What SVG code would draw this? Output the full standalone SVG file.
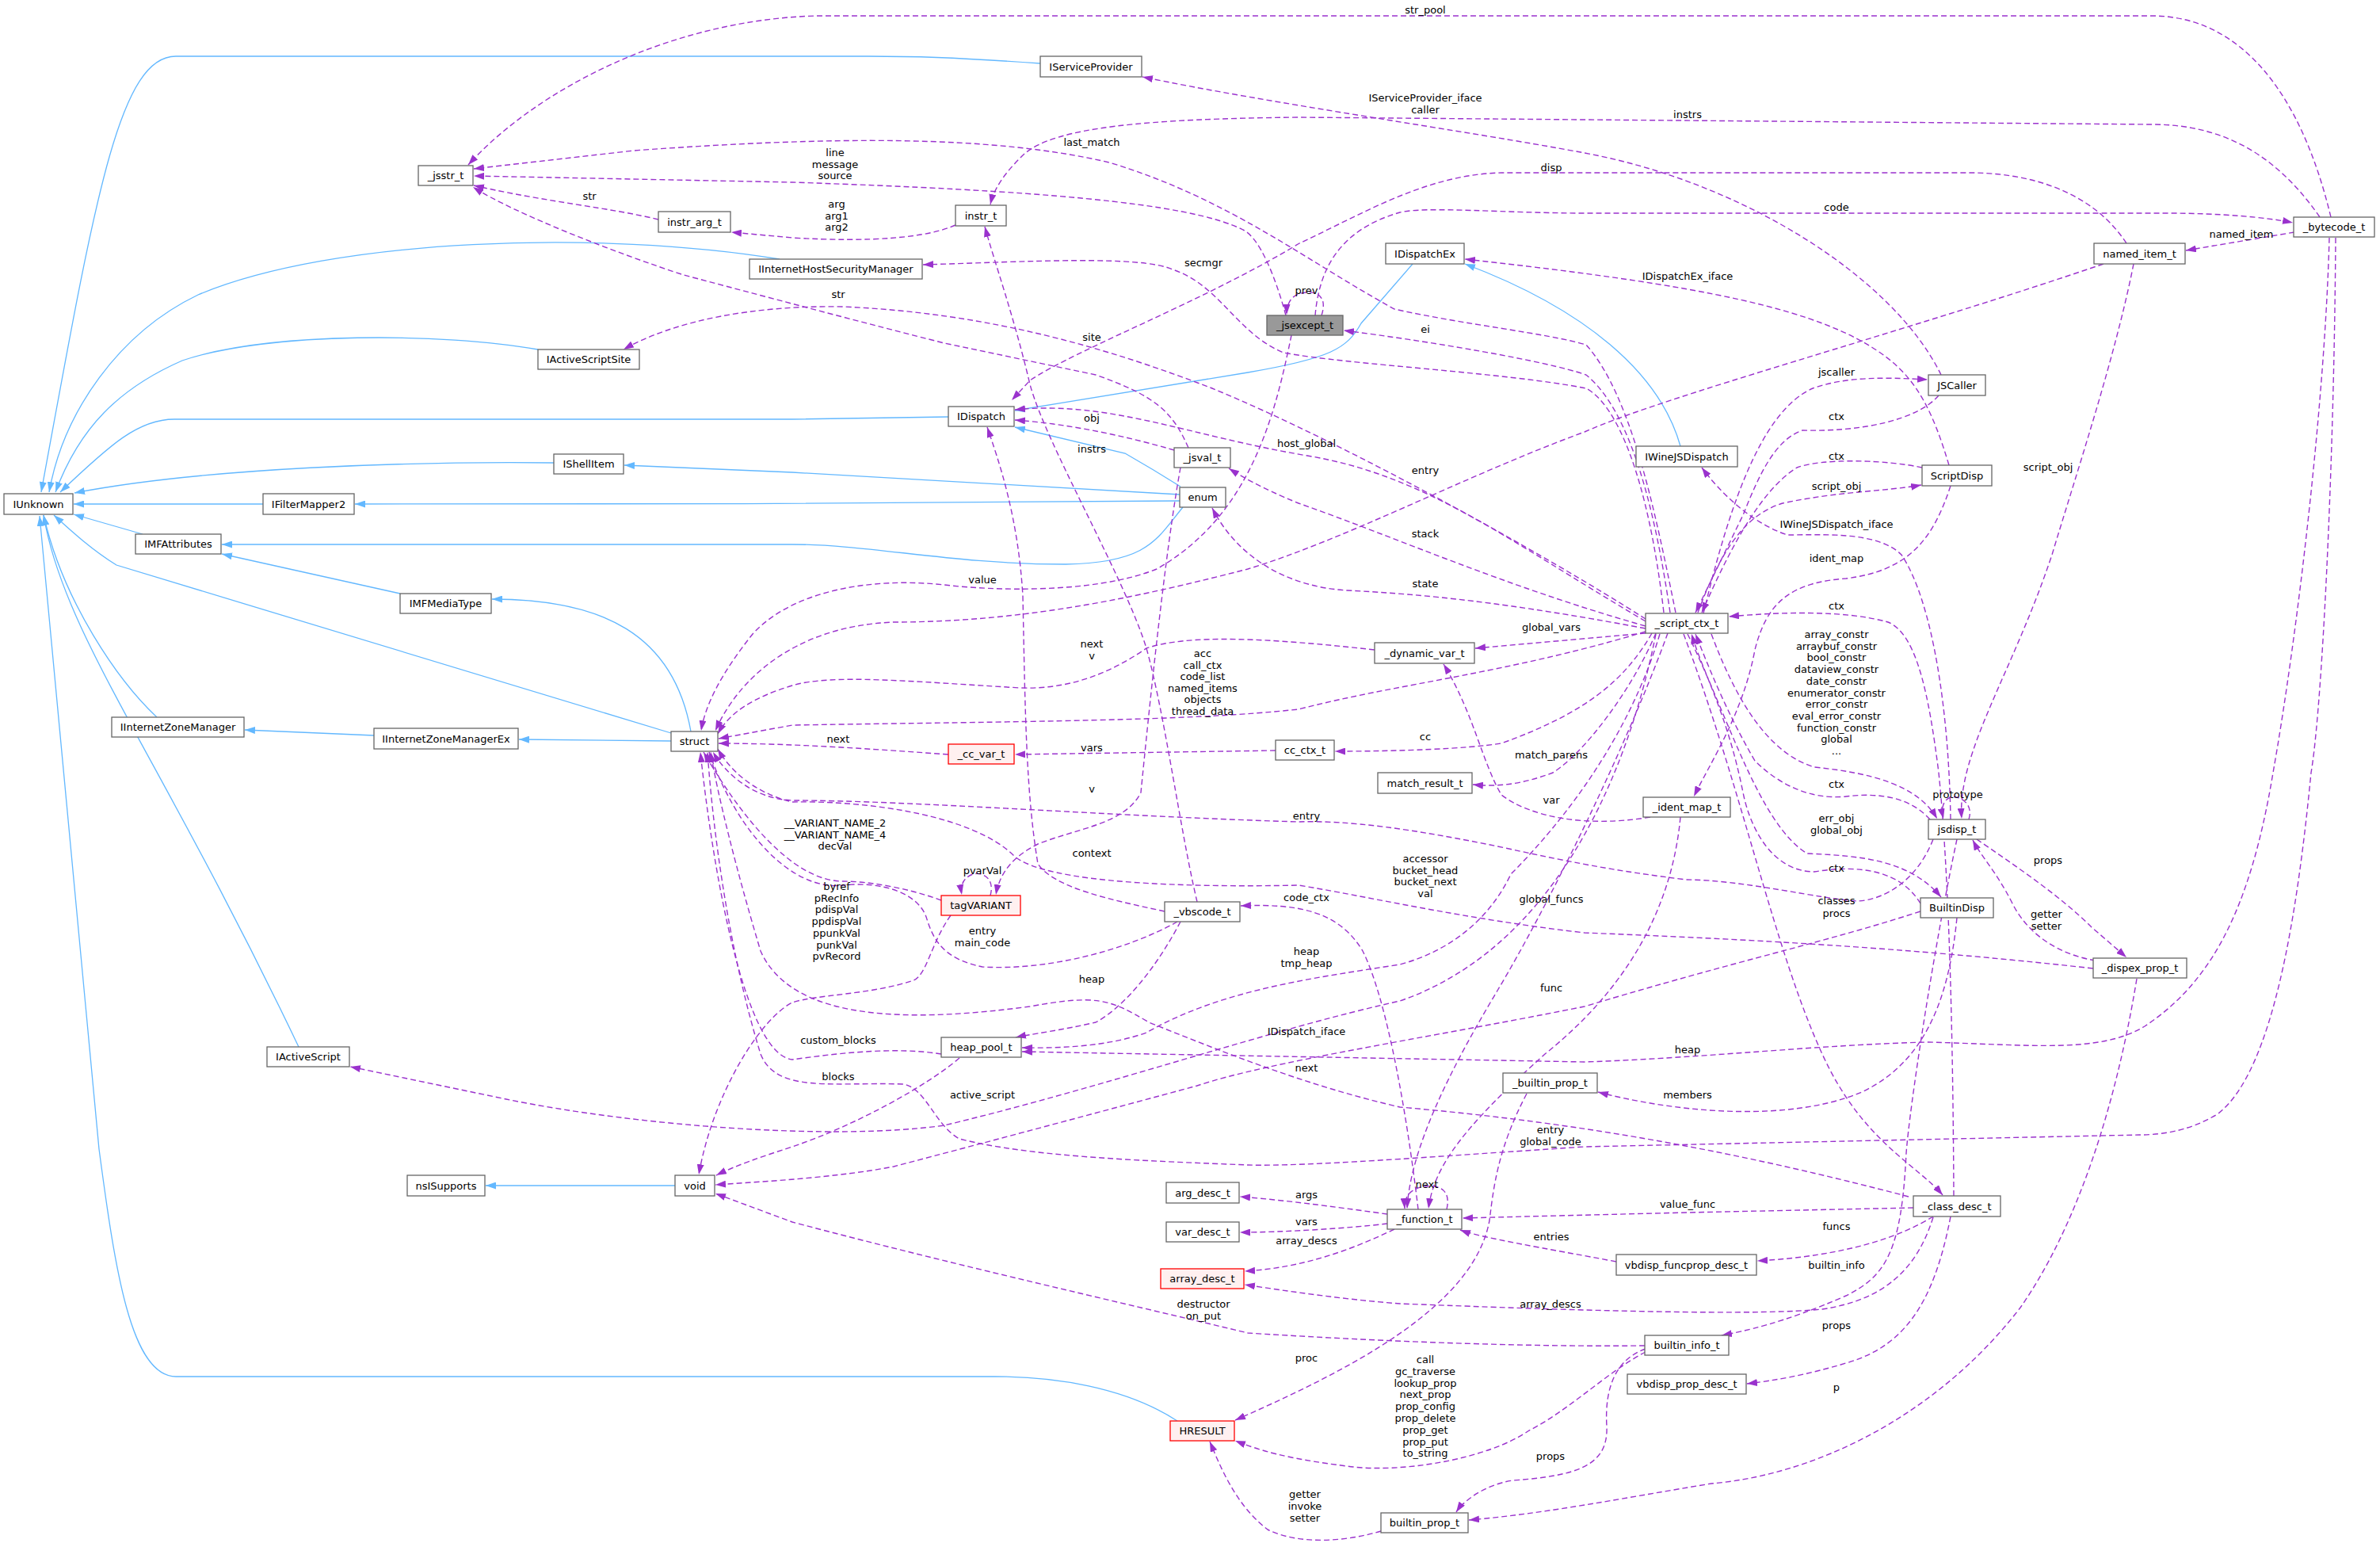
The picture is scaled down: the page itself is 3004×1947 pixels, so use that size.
<svg xmlns="http://www.w3.org/2000/svg" width="3004" height="1947" viewBox="0 0 3004 1947">
<style>
.e{fill:none;stroke:#9a32cd;stroke-width:1.4;stroke-dasharray:7,4;marker-end:url(#pa)}
.i{fill:none;stroke:#63b8ff;stroke-width:1.3;marker-end:url(#ba)}
.nd{fill:#fff;stroke:#666;stroke-width:1.3}
.rd{fill:#fff0f0;stroke:#ff0000;stroke-width:1.3}
.gr{fill:#999;stroke:#666;stroke-width:1.3}
text{font-family:"DejaVu Sans",sans-serif;font-size:13px;fill:#000;text-anchor:middle}
</style>
<defs>
<marker id="pa" viewBox="0 0 13 9" refX="13" refY="4.5" markerWidth="13" markerHeight="9" markerUnits="userSpaceOnUse" orient="auto"><path d="M0,0L13,4.5L0,9z" fill="#9a32cd"/></marker>
<marker id="ba" viewBox="0 0 13 9" refX="13" refY="4.5" markerWidth="13" markerHeight="9" markerUnits="userSpaceOnUse" orient="auto"><path d="M0,0L13,4.5L0,9z" fill="#63b8ff"/></marker>
</defs>
<rect width="3004" height="1947" fill="#fff"/>
<g id="connectors">
<path class="i" d="M1313,80 C1200,72 1150,71 1096,71 L222,71 C150,71 120,250 52,621"/>
<path class="i" d="M984,327 C760,290 420,300 250,372 C150,420 80,520 62,621"/>
<path class="i" d="M679,441 C560,420 340,418 230,455 C150,490 100,540 70,621"/>
<path class="i" d="M1197,526 L1000,529 L220,529 C175,529 140,560 76,621"/>
<path class="i" d="M699,584 C520,582 260,590 94,622"/>
<path class="i" d="M332,636 L93,636"/>
<path class="i" d="M180,674 L93,649"/>
<path class="i" d="M847,925 L147,713 C115,693 90,670 68,650"/>
<path class="i" d="M198,905 C150,860 80,760 55,650"/>
<path class="i" d="M377,1321 C200,950 80,800 55,650"/>
<path class="i" d="M1486,1793 C1420,1750 1330,1737 1256,1737 L222,1737 C165,1737 145,1600 125,1450 L50,651"/>
<path class="i" d="M505,749 L280,699"/>
<path class="i" d="M872,923 C850,800 760,756 621,756"/>
<path class="i" d="M472,928 L309,921"/>
<path class="i" d="M847,935 L655,933"/>
<path class="i" d="M1489,624 L1000,596 L788,587"/>
<path class="i" d="M1489,632 C1300,636 700,636 448,636"/>
<path class="i" d="M1493,640 C1460,680 1450,710 1345,712 C1200,712 1100,687 1000,687 L280,687"/>
<path class="i" d="M1490,614 Q1455,592 1420,572 L1281,539"/>
<path class="i" d="M1783,333 L1718,408 C1700,440 1680,452 1575,470 L1281,518"/>
<path class="i" d="M2121,563 C2095,470 2000,390 1849,333"/>
<path class="i" d="M852,1496 L613,1496"/>

<path class="e" d="M2942,274 C2905,120 2830,20 2716,20 L1030,20 C850,25 680,110 591,208"/>
<path class="e" d="M2928,274 C2870,190 2800,157 2716,157 L1639,148 C1450,150 1330,160 1292,195 C1266,220 1254,240 1250,258"/>
<path class="e" d="M2896,293 L2759,316"/>
<path class="e" d="M2940,300 C2935,500 2900,800 2869,975 C2840,1150 2790,1240 2707,1295 C2650,1330 2560,1318 2434,1315 C2300,1318 2150,1335 2000,1340 L1290,1327"/>
<path class="e" d="M2948,300 C2946,600 2930,900 2917,975 C2900,1150 2870,1350 2800,1405 C2760,1430 2720,1432 2700,1432 L2000,1447 C1800,1460 1650,1472 1575,1470 C1450,1465 1300,1460 1211,1437 C1180,1420 1170,1375 1141,1368 C1050,1365 980,1380 960,1330 C920,1200 900,1050 893,949"/>
<path class="e" d="M2450,473 C2390,350 2200,230 2000,193 C1850,165 1600,130 1442,97"/>
<path class="e" d="M2115,773 C2090,650 2060,500 2002,435 C1950,420 1850,410 1760,390 C1650,330 1550,250 1400,205 C1250,170 1050,172 800,190 L598,213"/>
<path class="e" d="M1623,398 C1610,350 1590,300 1569,290 C1500,255 1300,240 1000,230 L598,222"/>
<path class="e" d="M831,277 C770,262 690,255 598,234"/>
<path class="e" d="M2684,307 C2640,240 2560,218 2486,218 L1895,218 C1800,220 1720,270 1640,307 C1520,380 1360,440 1300,480 L1277,505"/>
<path class="e" d="M1660,398 C1665,340 1690,290 1767,268 C1800,260 1900,269 2002,269 L2735,269 C2800,269 2860,274 2894,281"/>
<path class="e" d="M1206,284 C1170,300 1100,306 1000,300 L923,293"/>
<path class="e" d="M2100,773 C2080,600 2040,510 2002,490 C1900,470 1700,460 1620,445 C1560,420 1540,360 1480,340 C1440,322 1300,330 1165,334"/>
<path class="e" d="M2460,587 C2440,520 2420,480 2380,450 C2300,390 2150,360 1849,327"/>
<path class="e" d="M1668,398 C1676,374 1662,368 1649,369 C1634,370 1624,378 1624,397"/>
<path class="e" d="M1500,565 C1480,520 1460,500 1383,473 L1192,433 C1100,410 950,370 863,347 C780,320 650,270 597,236"/>
<path class="e" d="M2108,773 C2090,650 2060,520 2002,473 C1950,455 1800,430 1696,417"/>
<path class="e" d="M2077,781 C1950,700 1700,560 1530,490 C1400,440 1250,395 1064,387 C950,385 850,405 787,441"/>
<path class="e" d="M2150,774 C2180,650 2220,520 2288,490 C2330,475 2380,476 2433,479"/>
<path class="e" d="M1482,568 C1420,550 1350,535 1281,530"/>
<path class="e" d="M2447,499 C2420,530 2350,545 2275,543 C2240,555 2220,600 2200,650 L2140,773"/>
<path class="e" d="M1511,1138 C1490,1050 1470,900 1447,818 C1420,730 1320,560 1300,485 C1280,400 1255,330 1243,286"/>
<path class="e" d="M2426,590 C2380,580 2300,578 2268,590 C2220,620 2180,700 2148,773"/>
<path class="e" d="M2143,773 C2170,700 2200,650 2250,635 C2320,620 2380,620 2425,612"/>
<path class="e" d="M2462,1034 C2460,900 2440,760 2400,700 C2370,670 2300,675 2256,675 C2210,660 2170,620 2148,590"/>
<path class="e" d="M2462,613 C2440,680 2410,720 2330,730 C2260,735 2230,760 2215,820 C2200,900 2160,960 2138,1005"/>
<path class="e" d="M2077,784 C1900,680 1800,600 1650,575 C1500,550 1400,505 1281,517"/>
<path class="e" d="M2655,333 C2400,420 2100,500 2000,545 C1850,600 1700,680 1575,718 C1450,750 1300,785 1128,785 C1000,790 930,860 903,922"/>
<path class="e" d="M2077,790 C1900,740 1767,680 1639,635 C1590,615 1565,600 1551,591"/>
<path class="e" d="M2077,793 C1900,760 1800,750 1700,745 C1620,740 1560,700 1530,641"/>
<path class="e" d="M1630,423 C1610,520 1580,650 1460,718 C1380,750 1250,745 1192,738 C1100,728 1000,745 950,800 C910,850 890,890 885,922"/>
<path class="e" d="M2077,799 L1862,818"/>
<path class="e" d="M1735,820 C1600,805 1500,800 1447,818 C1400,850 1350,870 1288,868 C1150,860 1050,850 1000,865 C950,880 920,900 906,926"/>
<path class="e" d="M2077,797 C1900,850 1767,862 1639,895 C1500,910 1300,910 1000,915 L907,932"/>
<path class="e" d="M1197,952 C1100,945 1000,938 907,938"/>
<path class="e" d="M1610,947 L1281,952"/>
<path class="e" d="M2085,799 C2050,860 2000,900 1895,938 C1850,945 1767,948 1685,948"/>
<path class="e" d="M2090,799 C2060,870 2000,950 1960,975 C1920,990 1890,993 1859,990"/>
<path class="e" d="M2083,1031 C2000,1045 1930,1030 1895,1003 C1870,960 1860,900 1822,838"/>
<path class="e" d="M2121,1031 C2110,1150 2050,1250 1950,1330 C1850,1420 1810,1470 1803,1525"/>
<path class="e" d="M2105,799 C2050,950 1950,1150 1890,1250 C1830,1350 1780,1450 1776,1525"/>
<path class="e" d="M1790,1526 C1775,1400 1750,1260 1720,1200 C1690,1150 1640,1140 1566,1143"/>
<path class="e" d="M1826,1526 C1832,1500 1815,1495 1798,1497 C1780,1500 1772,1510 1773,1525"/>
<path class="e" d="M2415,1524 L2130,1530 L1846,1537"/>
<path class="e" d="M2040,1592 C1950,1575 1870,1562 1843,1552"/>
<path class="e" d="M2440,1535 C2400,1560 2330,1585 2218,1591"/>
<path class="e" d="M1760,1551 C1700,1580 1640,1600 1571,1604"/>
<path class="e" d="M2440,1536 C2420,1600 2380,1640 2300,1652 C2200,1662 1900,1650 1767,1645 C1700,1640 1630,1630 1571,1621"/>
<path class="e" d="M2470,1059 C2440,1200 2410,1400 2406,1455 C2400,1580 2380,1610 2330,1635 C2250,1670 2200,1680 2173,1685"/>
<path class="e" d="M2462,1535 C2440,1650 2400,1700 2330,1720 C2280,1735 2240,1742 2205,1746"/>
<path class="e" d="M2697,1235 C2670,1400 2620,1550 2550,1650 C2450,1780 2300,1860 2160,1872 C2050,1890 1950,1910 1854,1918"/>
<path class="e" d="M2077,1702 C2040,1715 2025,1750 2028,1800 C2030,1850 1990,1862 1910,1868 C1880,1872 1850,1890 1838,1908"/>
<path class="e" d="M2077,1706 C2030,1730 1980,1780 1930,1805 C1880,1840 1770,1860 1700,1850 C1620,1840 1590,1830 1559,1818"/>
<path class="e" d="M1927,1380 C1890,1450 1885,1500 1880,1540 C1860,1650 1700,1730 1559,1792"/>
<path class="e" d="M1743,1932 C1700,1945 1640,1950 1600,1930 C1560,1900 1540,1850 1527,1819"/>
<path class="e" d="M2470,1158 C2460,1260 2430,1340 2350,1378 C2250,1420 2100,1400 2017,1378"/>
<path class="e" d="M2436,1034 C2410,1005 2370,1000 2330,1005 C2280,1010 2240,985 2215,960 C2180,900 2160,850 2140,800"/>
<path class="e" d="M2130,800 C2180,900 2220,1040 2281,1077 C2350,1080 2410,1085 2450,1132"/>
<path class="e" d="M2424,1140 C2400,1100 2350,1090 2290,1100 C2240,1100 2210,1050 2200,1000 C2180,900 2150,850 2135,800"/>
<path class="e" d="M2125,800 C2200,1000 2240,1200 2300,1330 C2350,1440 2420,1470 2452,1508"/>
<path class="e" d="M2466,1509 C2465,1300 2460,1100 2447,975 C2435,880 2420,800 2383,785 C2330,770 2250,772 2182,778"/>
<path class="e" d="M2160,800 C2190,880 2230,950 2290,968 C2360,975 2420,990 2445,1033"/>
<path class="e" d="M2642,1222 C2400,1195 2200,1185 2000,1177 C1850,1160 1720,1130 1639,1117 C1500,1120 1320,1115 1280,1080 C1230,1030 1100,1010 1000,1012 C950,1000 920,970 906,945"/>
<path class="e" d="M2645,1212 C2600,1205 2560,1180 2540,1140 C2520,1100 2500,1080 2490,1060"/>
<path class="e" d="M2495,1059 C2540,1090 2600,1130 2640,1170 L2684,1208"/>
<path class="e" d="M2485,1034 C2492,1012 2470,1003 2462,1006 C2452,1010 2450,1020 2453,1033"/>
<path class="e" d="M2440,1059 C2420,1110 2380,1135 2345,1137 C2300,1135 2200,1110 2128,1110 C2050,1100 2000,1092 1900,1070 C1780,1045 1700,1035 1639,1037 C1400,1030 1150,1010 1000,1010 C950,1008 915,975 900,949"/>
<path class="e" d="M1490,590 C1470,700 1450,900 1440,1000 C1420,1040 1360,1045 1310,1065 C1280,1080 1262,1100 1257,1129"/>
<path class="e" d="M1470,1150 C1400,1135 1330,1120 1310,1090 C1295,1000 1294,900 1291,752 C1285,650 1260,580 1246,539"/>
<path class="e" d="M1486,1163 C1420,1200 1320,1225 1240,1220 C1190,1210 1178,1185 1170,1160 C1160,1125 1110,1112 1064,1117 C1000,1125 930,1050 895,949"/>
<path class="e" d="M1188,1136 C1150,1122 1100,1112 1064,1112 C1000,1112 935,1030 888,949"/>
<path class="e" d="M1200,1155 C1175,1190 1170,1230 1153,1237 C1100,1255 1030,1255 1000,1265 C960,1285 900,1380 882,1482"/>
<path class="e" d="M1250,1130 C1256,1108 1240,1100 1228,1103 C1215,1108 1212,1118 1214,1129"/>
<path class="e" d="M1188,1330 C1128,1320 1050,1330 1000,1337 C940,1330 900,1100 884,949"/>
<path class="e" d="M1211,1335 C1170,1370 1080,1420 1000,1447 C960,1460 930,1470 904,1483"/>
<path class="e" d="M2409,1510 C2200,1455 2000,1417 1767,1397 C1650,1370 1550,1330 1450,1290 C1400,1260 1383,1255 1300,1270 C1150,1290 1000,1290 960,1200 C930,1100 905,1000 897,949"/>
<path class="e" d="M2090,800 C2050,1000 1950,1200 1767,1263 C1600,1300 1400,1370 1192,1420 C1050,1440 800,1420 639,1387 L442,1346"/>
<path class="e" d="M2424,1150 C2300,1190 2200,1210 2000,1270 C1800,1310 1600,1340 1511,1370 C1400,1400 1250,1440 1128,1472 C1060,1485 980,1490 903,1495"/>
<path class="e" d="M2095,800 C2050,950 1950,1060 1907,1103 C1880,1160 1830,1200 1767,1217 C1650,1235 1540,1250 1447,1303 C1400,1320 1340,1323 1290,1322"/>
<path class="e" d="M1490,1163 C1460,1220 1420,1270 1383,1290 C1340,1300 1300,1305 1282,1309"/>
<path class="e" d="M2076,1698 C1900,1700 1700,1690 1575,1682 C1400,1640 1200,1595 1000,1542 L903,1506"/>
<path class="e" d="M1751,1532 C1700,1525 1630,1515 1565,1510"/>
<path class="e" d="M1751,1544 C1700,1550 1620,1555 1565,1555"/>
<path class="e" d="M2693,333 C2670,450 2620,600 2590,700 C2540,850 2470,950 2476,1033"/>
</g>
<g id="edge-labels">
<text x="1799" y="17">str_pool</text>
<text x="1799" y="128">IServiceProvider_iface<tspan x="1799" dy="14.5">caller</tspan></text>
<text x="2130" y="149">instrs</text>
<text x="1378" y="184">last_match</text>
<text x="1054" y="197">line<tspan x="1054" dy="14.5">message</tspan><tspan x="1054" dy="14.5">source</tspan></text>
<text x="1958" y="216">disp</text>
<text x="744" y="252">str</text>
<text x="2318" y="266">code</text>
<text x="1056" y="262">arg<tspan x="1056" dy="14.5">arg1</tspan><tspan x="1056" dy="14.5">arg2</tspan></text>
<text x="2829" y="300">named_item</text>
<text x="1519" y="336">secmgr</text>
<text x="2130" y="353">IDispatchEx_iface</text>
<text x="1649" y="371">prev</text>
<text x="1058" y="376">str</text>
<text x="1799" y="420">ei</text>
<text x="1378" y="430">site</text>
<text x="2318" y="474">jscaller</text>
<text x="2318" y="530">ctx</text>
<text x="1378" y="532">obj</text>
<text x="1649" y="564">host_global</text>
<text x="1378" y="571">instrs</text>
<text x="2318" y="580">ctx</text>
<text x="2585" y="594">script_obj</text>
<text x="1799" y="598">entry</text>
<text x="2318" y="618">script_obj</text>
<text x="2318" y="666">IWineJSDispatch_iface</text>
<text x="1799" y="678">stack</text>
<text x="2318" y="709">ident_map</text>
<text x="1240" y="736">value</text>
<text x="1799" y="741">state</text>
<text x="2318" y="769">ctx</text>
<text x="1958" y="796">global_vars</text>
<text x="2318" y="805">array_constr<tspan x="2318" dy="14.7">arraybuf_constr</tspan><tspan x="2318" dy="14.7">bool_constr</tspan><tspan x="2318" dy="14.7">dataview_constr</tspan><tspan x="2318" dy="14.7">date_constr</tspan><tspan x="2318" dy="14.7">enumerator_constr</tspan><tspan x="2318" dy="14.7">error_constr</tspan><tspan x="2318" dy="14.7">eval_error_constr</tspan><tspan x="2318" dy="14.7">function_constr</tspan><tspan x="2318" dy="14.7">global</tspan><tspan x="2318" dy="14.7">...</tspan></text>
<text x="1378" y="817">next<tspan x="1378" dy="14.7">v</tspan></text>
<text x="1518" y="829">acc<tspan x="1518" dy="14.6">call_ctx</tspan><tspan x="1518" dy="14.6">code_list</tspan><tspan x="1518" dy="14.6">named_items</tspan><tspan x="1518" dy="14.6">objects</tspan><tspan x="1518" dy="14.6">thread_data</tspan></text>
<text x="1799" y="934">cc</text>
<text x="1058" y="937">next</text>
<text x="1378" y="948">vars</text>
<text x="1958" y="957">match_parens</text>
<text x="2318" y="994">ctx</text>
<text x="1378" y="1000">v</text>
<text x="2471" y="1007">prototype</text>
<text x="1958" y="1014">var</text>
<text x="1649" y="1034">entry</text>
<text x="2318" y="1037">err_obj<tspan x="2318" dy="14.7">global_obj</tspan></text>
<text x="1054" y="1043">__VARIANT_NAME_2<tspan x="1054" dy="14.5">__VARIANT_NAME_4</tspan><tspan x="1054" dy="14.5">decVal</tspan></text>
<text x="1378" y="1081">context</text>
<text x="1799" y="1088">accessor<tspan x="1799" dy="14.5">bucket_head</tspan><tspan x="1799" dy="14.5">bucket_next</tspan><tspan x="1799" dy="14.5">val</tspan></text>
<text x="2585" y="1090">props</text>
<text x="2318" y="1100">ctx</text>
<text x="1240" y="1103">pvarVal</text>
<text x="1056" y="1123">byref<tspan x="1056" dy="14.7">pRecInfo</tspan><tspan x="1056" dy="14.7">pdispVal</tspan><tspan x="1056" dy="14.7">ppdispVal</tspan><tspan x="1056" dy="14.7">ppunkVal</tspan><tspan x="1056" dy="14.7">punkVal</tspan><tspan x="1056" dy="14.7">pvRecord</tspan></text>
<text x="1649" y="1137">code_ctx</text>
<text x="1958" y="1139">global_funcs</text>
<text x="2318" y="1141">classes<tspan x="2318" dy="15.5">procs</tspan></text>
<text x="2583" y="1158">getter<tspan x="2583" dy="14.5">setter</tspan></text>
<text x="1240" y="1179">entry<tspan x="1240" dy="14.5">main_code</tspan></text>
<text x="1649" y="1205">heap<tspan x="1649" dy="15">tmp_heap</tspan></text>
<text x="1378" y="1240">heap</text>
<text x="1958" y="1251">func</text>
<text x="1649" y="1306">IDispatch_iface</text>
<text x="1058" y="1317">custom_blocks</text>
<text x="2130" y="1329">heap</text>
<text x="1649" y="1352">next</text>
<text x="1058" y="1363">blocks</text>
<text x="1240" y="1386">active_script</text>
<text x="2130" y="1386">members</text>
<text x="1957" y="1430">entry<tspan x="1957" dy="15">global_code</tspan></text>
<text x="1801" y="1499">next</text>
<text x="1649" y="1512">args</text>
<text x="2130" y="1524">value_func</text>
<text x="1649" y="1546">vars</text>
<text x="2318" y="1552">funcs</text>
<text x="1958" y="1565">entries</text>
<text x="1649" y="1570">array_descs</text>
<text x="2318" y="1601">builtin_info</text>
<text x="1519" y="1650">destructor<tspan x="1519" dy="15">on_put</tspan></text>
<text x="1957" y="1650">array_descs</text>
<text x="2318" y="1677">props</text>
<text x="1649" y="1718">proc</text>
<text x="1799" y="1720">call<tspan x="1799" dy="14.8">gc_traverse</tspan><tspan x="1799" dy="14.8">lookup_prop</tspan><tspan x="1799" dy="14.8">next_prop</tspan><tspan x="1799" dy="14.8">prop_config</tspan><tspan x="1799" dy="14.8">prop_delete</tspan><tspan x="1799" dy="14.8">prop_get</tspan><tspan x="1799" dy="14.8">prop_put</tspan><tspan x="1799" dy="14.8">to_string</tspan></text>
<text x="2318" y="1755">p</text>
<text x="1957" y="1842">props</text>
<text x="1647" y="1890">getter<tspan x="1647" dy="15">invoke</tspan><tspan x="1647" dy="15">setter</tspan></text>
</g>
<g id="node-jsstr_t"><rect class="nd" x="528" y="209" width="69" height="25"/><text x="562.5" y="226">_jsstr_t</text></g>
<g id="node-instr_arg_t"><rect class="nd" x="831" y="267" width="91" height="26"/><text x="876.5" y="284.5">instr_arg_t</text></g>
<g id="node-IInternetHostSecurityManager"><rect class="nd" x="946" y="327" width="218" height="25"/><text x="1055" y="344">IInternetHostSecurityManager</text></g>
<g id="node-IActiveScriptSite"><rect class="nd" x="679" y="441" width="128" height="25"/><text x="743" y="458">IActiveScriptSite</text></g>
<g id="node-IServiceProvider"><rect class="nd" x="1313" y="71" width="128" height="26"/><text x="1377" y="88.5">IServiceProvider</text></g>
<g id="node-instr_t"><rect class="nd" x="1206" y="259" width="64" height="26"/><text x="1238" y="276.5">instr_t</text></g>
<g id="node-jsexcept_t"><rect class="gr" x="1599" y="398" width="96" height="25"/><text x="1647" y="415">_jsexcept_t</text></g>
<g id="node-IDispatchEx"><rect class="nd" x="1749" y="307" width="99" height="26"/><text x="1798.5" y="324.5">IDispatchEx</text></g>
<g id="node-bytecode_t"><rect class="nd" x="2895" y="274" width="102" height="25"/><text x="2946" y="291">_bytecode_t</text></g>
<g id="node-named_item_t"><rect class="nd" x="2643" y="307" width="115" height="26"/><text x="2700.5" y="324.5">named_item_t</text></g>
<g id="node-JSCaller"><rect class="nd" x="2434" y="473" width="72" height="26"/><text x="2470" y="490.5">JSCaller</text></g>
<g id="node-IUnknown"><rect class="nd" x="5" y="623" width="87" height="26"/><text x="48.5" y="640.5">IUnknown</text></g>
<g id="node-IShellItem"><rect class="nd" x="699" y="573" width="88" height="25"/><text x="743" y="590">IShellItem</text></g>
<g id="node-IFilterMapper2"><rect class="nd" x="332" y="623" width="115" height="26"/><text x="389.5" y="640.5">IFilterMapper2</text></g>
<g id="node-IMFAttributes"><rect class="nd" x="171" y="674" width="108" height="25"/><text x="225" y="691">IMFAttributes</text></g>
<g id="node-IMFMediaType"><rect class="nd" x="505" y="749" width="115" height="25"/><text x="562.5" y="766">IMFMediaType</text></g>
<g id="node-IInternetZoneManager"><rect class="nd" x="141" y="905" width="167" height="25"/><text x="224.5" y="922">IInternetZoneManager</text></g>
<g id="node-IInternetZoneManagerEx"><rect class="nd" x="472" y="919" width="182" height="26"/><text x="563" y="936.5">IInternetZoneManagerEx</text></g>
<g id="node-struct"><rect class="nd" x="847" y="923" width="59" height="25"/><text x="876.5" y="940">struct</text></g>
<g id="node-IDispatch"><rect class="nd" x="1197" y="513" width="83" height="25"/><text x="1238.5" y="530">IDispatch</text></g>
<g id="node-jsval_t"><rect class="nd" x="1482" y="565" width="71" height="25"/><text x="1517.5" y="582">_jsval_t</text></g>
<g id="node-enum"><rect class="nd" x="1489" y="615" width="58" height="25"/><text x="1518" y="632">enum</text></g>
<g id="node-dynamic_var_t"><rect class="nd" x="1735" y="811" width="126" height="26"/><text x="1798" y="828.5">_dynamic_var_t</text></g>
<g id="node-cc_var_t"><rect class="rd" x="1197" y="939" width="83" height="25"/><text x="1238.5" y="956">_cc_var_t</text></g>
<g id="node-cc_ctx_t"><rect class="nd" x="1610" y="934" width="74" height="25"/><text x="1647" y="951">cc_ctx_t</text></g>
<g id="node-match_result_t"><rect class="nd" x="1739" y="975" width="119" height="26"/><text x="1798.5" y="992.5">match_result_t</text></g>
<g id="node-IWineJSDispatch"><rect class="nd" x="2065" y="563" width="128" height="26"/><text x="2129" y="580.5">IWineJSDispatch</text></g>
<g id="node-ScriptDisp"><rect class="nd" x="2426" y="587" width="88" height="26"/><text x="2470" y="604.5">ScriptDisp</text></g>
<g id="node-script_ctx_t"><rect class="nd" x="2077" y="774" width="104" height="25"/><text x="2129" y="791">_script_ctx_t</text></g>
<g id="node-IActiveScript"><rect class="nd" x="337" y="1321" width="104" height="25"/><text x="389" y="1338">IActiveScript</text></g>
<g id="node-tagVARIANT"><rect class="rd" x="1188" y="1130" width="100" height="25"/><text x="1238" y="1147">tagVARIANT</text></g>
<g id="node-vbscode_t"><rect class="nd" x="1470" y="1138" width="95" height="25"/><text x="1517.5" y="1155">_vbscode_t</text></g>
<g id="node-heap_pool_t"><rect class="nd" x="1188" y="1309" width="101" height="25"/><text x="1238.5" y="1326">heap_pool_t</text></g>
<g id="node-builtin_prop_t_"><rect class="nd" x="1897" y="1354" width="119" height="25"/><text x="1956.5" y="1371">_builtin_prop_t</text></g>
<g id="node-ident_map_t"><rect class="nd" x="2074" y="1006" width="110" height="25"/><text x="2129" y="1023">_ident_map_t</text></g>
<g id="node-jsdisp_t"><rect class="nd" x="2434" y="1034" width="72" height="25"/><text x="2470" y="1051">jsdisp_t</text></g>
<g id="node-BuiltinDisp"><rect class="nd" x="2424" y="1133" width="92" height="25"/><text x="2470" y="1150">BuiltinDisp</text></g>
<g id="node-dispex_prop_t"><rect class="nd" x="2642" y="1209" width="118" height="25"/><text x="2701" y="1226">_dispex_prop_t</text></g>
<g id="node-nsISupports"><rect class="nd" x="514" y="1483" width="98" height="26"/><text x="563" y="1500.5">nsISupports</text></g>
<g id="node-void"><rect class="nd" x="852" y="1483" width="50" height="26"/><text x="877" y="1500.5">void</text></g>
<g id="node-arg_desc_t"><rect class="nd" x="1472" y="1492" width="92" height="26"/><text x="1518" y="1509.5">arg_desc_t</text></g>
<g id="node-var_desc_t"><rect class="nd" x="1472" y="1542" width="92" height="25"/><text x="1518" y="1559">var_desc_t</text></g>
<g id="node-function_t"><rect class="nd" x="1751" y="1526" width="94" height="25"/><text x="1798" y="1543">_function_t</text></g>
<g id="node-array_desc_t"><rect class="rd" x="1465" y="1601" width="105" height="25"/><text x="1517.5" y="1618">array_desc_t</text></g>
<g id="node-HRESULT"><rect class="rd" x="1477" y="1793" width="81" height="25"/><text x="1517.5" y="1810">HRESULT</text></g>
<g id="node-builtin_prop_t"><rect class="nd" x="1743" y="1909" width="110" height="25"/><text x="1798" y="1926">builtin_prop_t</text></g>
<g id="node-class_desc_t"><rect class="nd" x="2415" y="1509" width="110" height="26"/><text x="2470" y="1526.5">_class_desc_t</text></g>
<g id="node-vbdisp_funcprop_desc_t"><rect class="nd" x="2040" y="1583" width="177" height="26"/><text x="2128.5" y="1600.5">vbdisp_funcprop_desc_t</text></g>
<g id="node-builtin_info_t"><rect class="nd" x="2076" y="1685" width="106" height="25"/><text x="2129" y="1702">builtin_info_t</text></g>
<g id="node-vbdisp_prop_desc_t"><rect class="nd" x="2054" y="1734" width="150" height="25"/><text x="2129" y="1751">vbdisp_prop_desc_t</text></g>
</svg>
